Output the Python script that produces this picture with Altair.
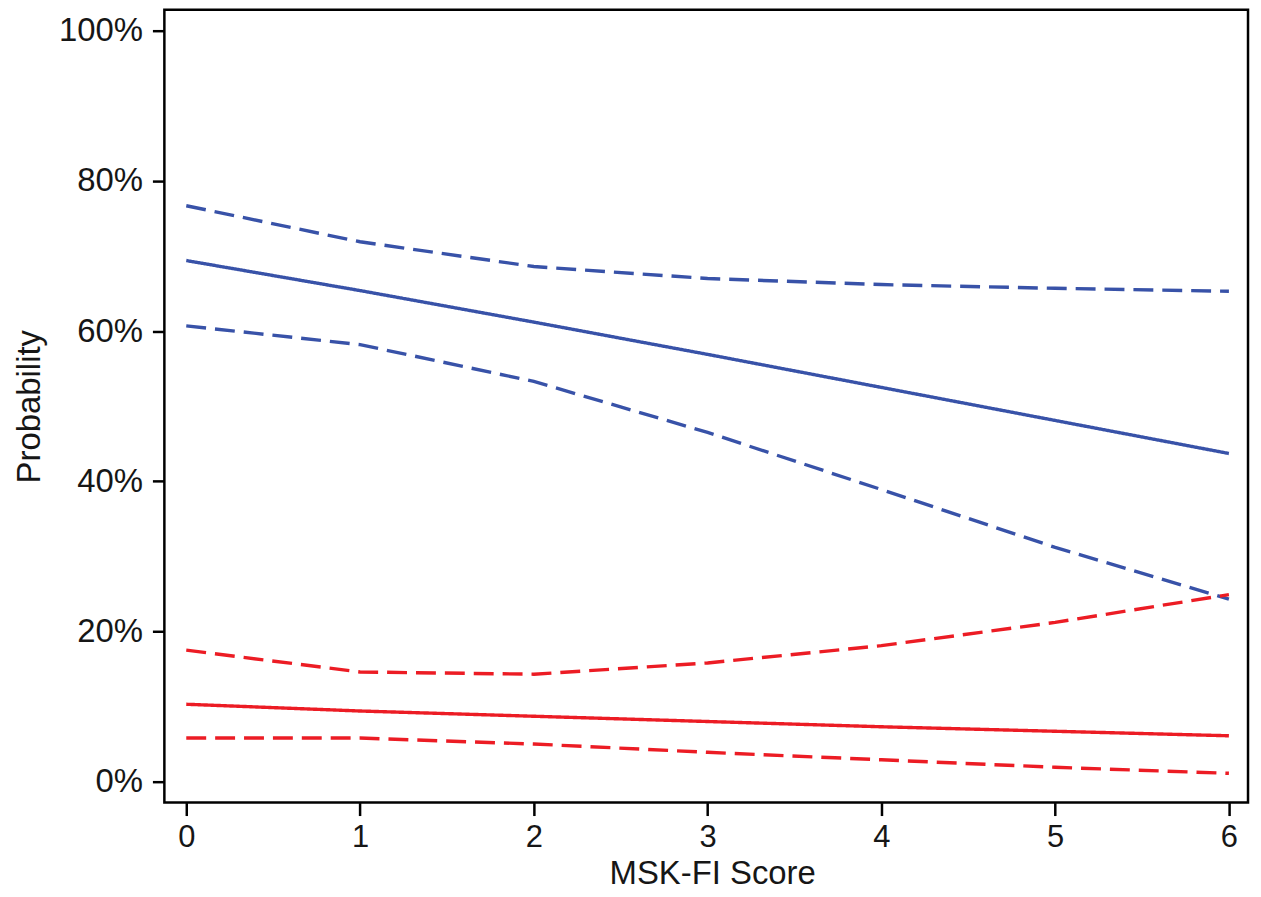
import altair as alt
import pandas as pd

scores = [0, 1, 2, 3, 4, 5, 6]
blue_est = [69.4, 65.4, 61.2, 56.9, 52.5, 48.1, 43.7]
blue_lo = [60.7, 58.2, 53.3, 46.5, 38.9, 31.2, 24.3]
blue_hi = [76.7, 71.9, 68.6, 67.0, 66.2, 65.7, 65.3]
red_est = [10.3, 9.4, 8.7, 8.0, 7.3, 6.7, 6.1]
red_lo = [5.8, 5.8, 5.0, 3.9, 2.9, 1.9, 1.1]
red_hi = [17.5, 14.6, 14.3, 15.8, 18.1, 21.2, 24.9]
y_ticks = [0, 0.2, 0.4, 0.6, 0.8, 1.0]

series = [
    ("blue", "est", blue_est), ("blue", "lo", blue_lo), ("blue", "hi", blue_hi),
    ("red", "est", red_est), ("red", "lo", red_lo), ("red", "hi", red_hi),
]
rows = []
for grp, kind, vals in series:
    for x, v in zip(scores, vals):
        rows.append({"score": x, "prob": v / 100.0, "group": grp,
                     "kind": "est" if kind == "est" else "ci",
                     "sid": grp + "_" + kind})
df = pd.DataFrame(rows)

FONT = "Liberation Sans"
TXT = "#161616"

chart = alt.Chart(df).mark_line(strokeWidth=3.4, clip=True).encode(
    x=alt.X("score:Q",
            scale=alt.Scale(domain=[-0.126, 6.11], nice=False, zero=False),
            axis=alt.Axis(title="MSK-FI Score", values=scores, format="d",
                          grid=False, domain=False, tickColor="black",
                          tickWidth=2.5, tickSize=13, labelFontSize=31,
                          labelColor=TXT, labelPadding=7,
                          titleFontSize=33, titleColor=TXT,
                          titleFontWeight="normal", titlePadding=5,
                          titleX=550,
                          labelFont=FONT, titleFont=FONT)),
    y=alt.Y("prob:Q",
            scale=alt.Scale(domain=[-0.028, 1.028], nice=False, zero=False),
            axis=alt.Axis(title="Probability", values=y_ticks, format=".0%",
                          grid=False, domain=False, tickColor="black",
                          tickWidth=2.5, tickSize=12, labelFontSize=33,
                          labelColor=TXT, labelPadding=10,
                          titleFontSize=33, titleColor=TXT,
                          titleFontWeight="normal", titlePadding=12,
                          labelFont=FONT, titleFont=FONT)),
    color=alt.Color("group:N", scale=alt.Scale(domain=["blue", "red"],
                                               range=["#3852A8", "#EC1C24"]),
                    legend=None),
    strokeDash=alt.StrokeDash("kind:N",
                              scale=alt.Scale(domain=["est", "ci"],
                                              range=[[1, 0], [20, 9]]),
                              legend=None),
    detail="sid:N",
).properties(
    width=1088, height=796,
    background="white",
    padding={"left": 5, "top": 0, "right": 5, "bottom": 5},
).configure_view(
    stroke="black", strokeWidth=2.5
)

chart.save("out.html", embed_options={"renderer": "svg", "actions": False})
